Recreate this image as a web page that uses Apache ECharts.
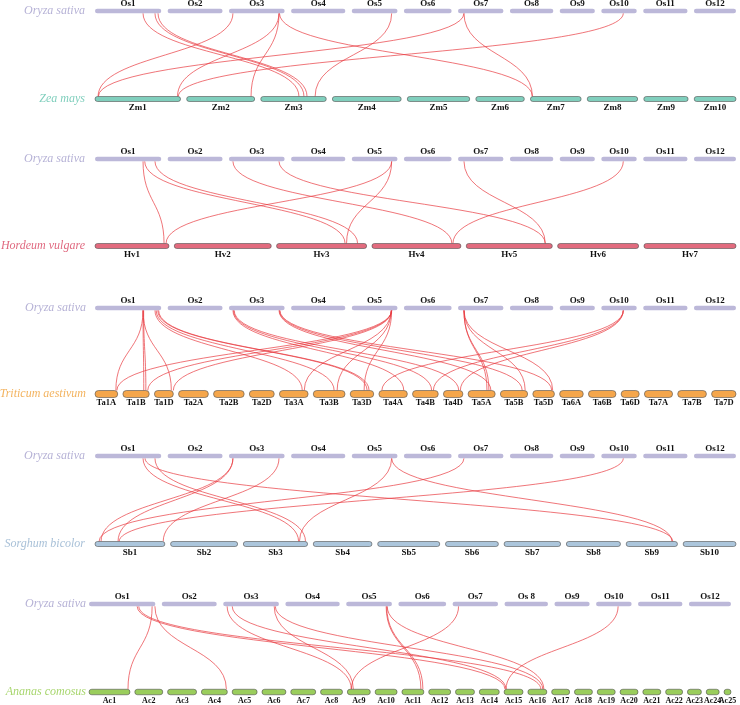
<!DOCTYPE html>
<html>
<head>
<meta charset="utf-8">
<script src="https://cdn.jsdelivr.net/npm/echarts@6/dist/echarts.min.js"></script>
<style>html,body{margin:0;padding:0;background:#fff;}</style>
</head>
<body>
<div id="main" style="width:740px;height:705px;"></div>
<script type="text/javascript">
// chromosome names and lengths (Mb)
var osNames = ['Os1', 'Os2', 'Os3', 'Os4', 'Os5', 'Os6', 'Os7', 'Os8', 'Os9', 'Os10', 'Os11', 'Os12'];
var osNames5 = ['Os1', 'Os2', 'Os3', 'Os4', 'Os5', 'Os6', 'Os7', 'Os 8', 'Os9', 'Os10', 'Os11', 'Os12'];
var osLen = [43.3, 35.9, 36.4, 35.5, 29.9, 31.2, 29.7, 28.4, 23.0, 23.2, 29.0, 27.5];

var zmNames = ['Zm1', 'Zm2', 'Zm3', 'Zm4', 'Zm5', 'Zm6', 'Zm7', 'Zm8', 'Zm9', 'Zm10'];
var zmLen = [307, 244, 235, 247, 224, 174, 182, 181, 159, 150];

var hvNames = ['Hv1', 'Hv2', 'Hv3', 'Hv4', 'Hv5', 'Hv6', 'Hv7'];
var hvLen = [556, 729, 677, 669, 647, 609, 692];

var taNames = ['Ta1A', 'Ta1B', 'Ta1D', 'Ta2A', 'Ta2B', 'Ta2D', 'Ta3A', 'Ta3B', 'Ta3D', 'Ta4A', 'Ta4B',
    'Ta4D', 'Ta5A', 'Ta5B', 'Ta5D', 'Ta6A', 'Ta6B', 'Ta6D', 'Ta7A', 'Ta7B', 'Ta7D'];
var taLen = [594, 689, 495, 780, 801, 651, 750, 830, 615, 744, 673, 509, 709, 713, 566, 618, 720, 473, 736, 750, 638];

var sbNames = ['Sb1', 'Sb2', 'Sb3', 'Sb4', 'Sb5', 'Sb6', 'Sb7', 'Sb8', 'Sb9', 'Sb10'];
var sbLen = [80.9, 77.7, 74.4, 68.0, 71.9, 61.3, 65.5, 62.7, 59.4, 61.2];

var acNames = [];
for (var k = 1; k <= 25; k++) acNames.push('Ac' + k);
var acLen = [24.6, 16.8, 17.4, 15.6, 15.0, 14.4, 15.0, 13.2, 13.8, 13.2, 13.2, 13.2, 11.4,
    12.0, 11.4, 11.4, 10.8, 10.8, 10.8, 10.8, 10.8, 10.2, 8.4, 7.8, 4.2];

// syntenic links: [rice chr, pos Mb, other chr, pos Mb]
var zmLinks = [
    ['Os1', 31.4, 'Zm3', 137], ['Os1', 39.2, 'Zm3', 155], ['Os1', 41.2, 'Zm3', 166],
    ['Os3', 2.6, 'Zm1', 11], ['Os3', 32.7, 'Zm1', 296], ['Os3', 32.7, 'Zm2', 231],
    ['Os3', 33.0, 'Zm7', 7], ['Os5', 26.1, 'Zm3', 195], ['Os7', 3.9, 'Zm1', 12],
    ['Os7', 3.9, 'Zm7', 7], ['Os10', 14.4, 'Zm1', 299]
];
var hvLinks = [
    ['Os1', 31.4, 'Hv1', 519], ['Os1', 32.5, 'Hv3', 515], ['Os1', 39.2, 'Hv3', 609],
    ['Os3', 2.6, 'Hv4', 601], ['Os3', 32.7, 'Hv5', 594], ['Os5', 26.1, 'Hv1', 534],
    ['Os5', 26.1, 'Hv3', 526], ['Os7', 3.9, 'Hv5', 594], ['Os10', 14.4, 'Hv4', 609]
];
var taLinks = [
    ['Os1', 31.4, 'Ta1A', 545], ['Os1', 31.4, 'Ta1B', 545], ['Os1', 31.8, 'Ta1B', 600],
    ['Os1', 31.4, 'Ta1D', 442], ['Os1', 39.2, 'Ta3A', 597], ['Os1', 40.0, 'Ta3B', 545],
    ['Os1', 41.0, 'Ta3D', 442], ['Os1', 41.6, 'Ta3D', 494],
    ['Os5', 26.1, 'Ta1A', 571], ['Os5', 26.1, 'Ta1B', 649], ['Os5', 26.1, 'Ta1D', 494],
    ['Os5', 25.8, 'Ta3A', 649], ['Os5', 25.8, 'Ta3B', 623], ['Os5', 26.1, 'Ta3D', 364],
    ['Os3', 2.6, 'Ta4A', 650], ['Os3', 3.0, 'Ta4B', 500], ['Os3', 3.4, 'Ta4D', 400],
    ['Os3', 32.7, 'Ta5A', 597], ['Os3', 33.0, 'Ta5B', 571], ['Os3', 33.3, 'Ta5D', 494],
    ['Os7', 3.9, 'Ta5A', 494], ['Os7', 3.9, 'Ta5A', 545], ['Os7', 3.9, 'Ta5B', 649],
    ['Os7', 3.9, 'Ta5D', 520],
    ['Os10', 14.4, 'Ta4A', 78], ['Os10', 14.4, 'Ta4B', 545], ['Os10', 14.4, 'Ta4D', 442]
];
var sbLinks = [
    ['Os1', 31.4, 'Sb3', 64], ['Os1', 39.2, 'Sb3', 72], ['Os1', 32.7, 'Sb9', 54],
    ['Os3', 2.6, 'Sb1', 7], ['Os3', 2.6, 'Sb1', 26.7], ['Os3', 32.7, 'Sb1', 79],
    ['Os5', 26.1, 'Sb3', 65], ['Os5', 26.1, 'Sb9', 53], ['Os7', 3.9, 'Sb1', 4.7],
    ['Os10', 14.4, 'Sb1', 28]
];
var acLinks = [
    ['Os1', 41.2, 'Ac1', 23.4], ['Os1', 43.0, 'Ac4', 15], ['Os1', 31.4, 'Ac15', 0.6],
    ['Os1', 32.5, 'Ac16', 7.8], ['Os3', 2.6, 'Ac9', 2.4], ['Os3', 5.9, 'Ac15', 1.2],
    ['Os3', 33.3, 'Ac9', 3.6], ['Os3', 34.0, 'Ac16', 9], ['Os5', 26.1, 'Ac11', 11.4],
    ['Os5', 26.5, 'Ac11', 12.6], ['Os5', 26.8, 'Ac16', 9.6], ['Os7', 3.9, 'Ac9', 2.4],
    ['Os10', 14.4, 'Ac15', 1.2]
];

// panel layout
var panels = [
    {sp: 'Zea mays', names: zmNames, len: zmLen, links: zmLinks, osLabels: osNames,
        top: 11, h: 88, left: 95, right: 4, labelX: 85, gap: 6.1,
        fill: '#80cfbd', txt: '#80cfbd', bh: 5, fs: 9},
    {sp: 'Hordeum vulgare', names: hvNames, len: hvLen, links: hvLinks, osLabels: osNames,
        top: 159, h: 87, left: 95, right: 4, labelX: 85, gap: 5.3,
        fill: '#e26b7e', txt: '#e06a80', bh: 5, fs: 9},
    {sp: 'Triticum aestivum', names: taNames, len: taLen, links: taLinks, osLabels: osNames,
        top: 308, h: 86, left: 95, right: 4, labelX: 86, gap: 5.15,
        fill: '#f5a64b', txt: '#f3b35f', bh: 7, fs: 8.5},
    {sp: 'Sorghum bicolor', names: sbNames, len: sbLen, links: sbLinks, osLabels: osNames,
        top: 456, h: 88, left: 95, right: 4, labelX: 85, gap: 5.7,
        fill: '#acc6dc', txt: '#a9c1d8', bh: 5, fs: 9},
    {sp: 'Ananas comosus', names: acNames, len: acLen, links: acLinks, osLabels: osNames5,
        top: 604, h: 88, left: 89, right: 9, labelX: 86, gap: 4.8,
        fill: '#9acd5c', txt: '#a8d66e', bh: 5.5, fs: 8}
];

var OS_GAP = 6.4, OS_H = 4.5, OS_FILL = '#bcb8d9', OS_TXT = '#b6b2d6';
var LINK_COLOR = '#e8393f';
var SERIF = '"Liberation Serif", "DejaVu Serif", serif';

// start of each chromosome as a fraction of the row width, and width per Mb
function layoutRow(len, gapPx, widthPx) {
    var sum = len.reduce(function (a, b) { return a + b; }, 0);
    var gf = gapPx / widthPx;
    var u = (1 - gf * (len.length - 1)) / sum;
    var starts = [], x = 0;
    for (var i = 0; i < len.length; i++) {
        starts.push(x);
        x += len[i] * u + gf;
    }
    return {starts: starts, u: u};
}

var grids = [], xAxes = [], yAxes = [], series = [];

panels.forEach(function (p, pi) {
    var w = 740 - p.left - p.right;
    grids.push({left: p.left, right: p.right, top: p.top, height: p.h});
    xAxes.push({type: 'value', gridIndex: pi, min: 0, max: 1, show: false});
    yAxes.push({type: 'value', gridIndex: pi, min: 0, max: 1, show: false});

    var osRow = layoutRow(osLen, OS_GAP, w);
    var spRow = layoutRow(p.len, p.gap, w);

    var chroms = [];
    osLen.forEach(function (l, i) {
        chroms.push({x0: osRow.starts[i], x1: osRow.starts[i] + l * osRow.u, y: 1,
            name: p.osLabels[i], first: i === 0, top: true});
    });
    p.len.forEach(function (l, i) {
        chroms.push({x0: spRow.starts[i], x1: spRow.starts[i] + l * spRow.u, y: 0,
            name: p.names[i], first: i === 0, top: false});
    });

    var linkData = p.links.map(function (lk) {
        var a = osNames.indexOf(lk[0]), b = p.names.indexOf(lk[2]);
        return [osRow.starts[a] + lk[1] * osRow.u, spRow.starts[b] + lk[3] * spRow.u];
    });

    series.push({
        type: 'custom',
        xAxisIndex: pi, yAxisIndex: pi,
        silent: true,
        z: 1,
        data: linkData,
        renderItem: function (params, api) {
            var a = api.coord([api.value(0), 1]);
            var b = api.coord([api.value(1), 0]);
            var y1 = a[1] + OS_H / 2, y2 = b[1] - p.bh / 2, my = (y1 + y2) / 2;
            return {
                type: 'bezierCurve',
                shape: {x1: a[0], y1: y1, x2: b[0], y2: y2, cpx1: a[0], cpy1: my, cpx2: b[0], cpy2: my},
                style: {stroke: LINK_COLOR, lineWidth: 0.7, fill: 'none'}
            };
        }
    });

    series.push({
        type: 'custom',
        xAxisIndex: pi, yAxisIndex: pi,
        silent: true,
        z: 2,
        data: chroms.map(function (c) { return [c.x0, c.x1, c.y]; }),
        renderItem: function (params, api) {
            var c = chroms[params.dataIndex];
            var a = api.coord([api.value(0), api.value(2)]);
            var b = api.coord([api.value(1), api.value(2)]);
            var bh = c.top ? OS_H : p.bh;
            var fs = c.top ? 9 : p.fs;
            var kids = [{
                type: 'rect',
                shape: {x: a[0], y: a[1] - bh / 2, width: b[0] - a[0], height: bh, r: bh / 2},
                style: c.top ? {fill: OS_FILL} : {fill: p.fill, stroke: '#505050', lineWidth: 0.6}
            }, {
                type: 'text',
                style: {
                    text: c.name, x: (a[0] + b[0]) / 2, y: c.top ? a[1] - 7.5 : a[1] + 8.5,
                    fill: '#111', font: 'bold ' + fs + 'px ' + SERIF,
                    align: 'center', verticalAlign: 'middle',
                    textAlign: 'center', textVerticalAlign: 'middle'
                }
            }];
            if (c.first) {
                kids.push({
                    type: 'text',
                    style: {
                        text: c.top ? 'Oryza sativa' : p.sp, x: p.labelX, y: a[1],
                        fill: c.top ? OS_TXT : p.txt, font: 'italic 12px ' + SERIF,
                        align: 'right', verticalAlign: 'middle',
                        textAlign: 'right', textVerticalAlign: 'middle'
                    }
                });
            }
            return {type: 'group', children: kids};
        }
    });
});

var myChart = echarts.init(document.getElementById('main'));
myChart.setOption({
    animation: false,
    grid: grids,
    xAxis: xAxes,
    yAxis: yAxes,
    series: series
});
</script>
</body>
</html>
